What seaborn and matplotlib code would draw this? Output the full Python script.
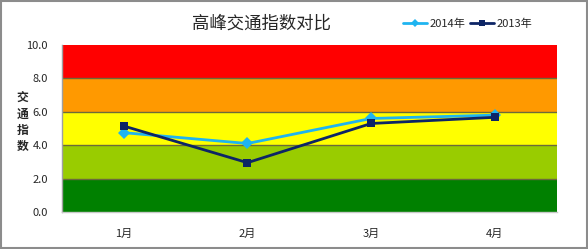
import matplotlib
matplotlib.use("Agg")
import matplotlib.pyplot as plt
import seaborn as sns
import pandas as pd
from matplotlib.patches import Rectangle
from matplotlib.lines import Line2D

months = ["1月", "2月", "3月", "4月"]
v2014 = [4.75, 4.1, 5.6, 5.8]
v2013 = [5.15, 2.95, 5.3, 5.67]
band_edges = [0, 2, 4, 6, 8, 10]
band_colors = ["#008000", "#99CC00", "#FFFF00", "#FF9900", "#FF0000"]
yticks = [0, 2, 4, 6, 8, 10]

sns.set_style("white")
plt.rcParams['font.family'] = ['Noto Sans CJK SC', 'DejaVu Sans']

df = pd.DataFrame({
    "month": months * 2,
    "x": list(range(4)) * 2,
    "value": v2014 + v2013,
    "series": ["2014年"] * 4 + ["2013年"] * 4,
})

fig = plt.figure(figsize=(5.88, 2.49), dpi=100)
ax = fig.add_axes([0.105, 0.149, 0.842, 0.670])

for i in range(len(band_colors)):
    ax.axhspan(band_edges[i], band_edges[i + 1], color=band_colors[i], zorder=0, lw=0)
for e in band_edges[1:-1]:
    ax.axhline(e, color="#6b6b3a", lw=1.0, zorder=1)

palette = {"2014年": "#1FB4F0", "2013年": "#0D2566"}
sns.lineplot(data=df, x="x", y="value", hue="series", style="series",
             markers={"2014年": "D", "2013年": "s"}, dashes=False,
             palette=palette, ax=ax, lw=2, markersize=6, markeredgewidth=0,
             legend=False, zorder=3)

ax.set_xlim(-0.5, 3.5)
ax.set_ylim(0, 10)
ax.set_xticks(range(4))
ax.set_xticklabels(months, fontsize=8)
ax.set_yticks(yticks)
ax.set_yticklabels([f"{t:.1f}" for t in yticks], fontsize=8)
ax.tick_params(axis="both", length=0, pad=10)
ax.tick_params(axis="x", pad=12)
ax.set_xlabel("")
ax.set_ylabel("")
for s in ["top", "right"]:
    ax.spines[s].set_visible(False)
ax.spines["left"].set_color("#a0a0a0")
ax.spines["bottom"].set_color("#c8c8c8")
ax.spines["left"].set_linewidth(1)
ax.spines["bottom"].set_linewidth(1)

fig.text(0.038, 0.51, "交\n通\n指\n数", fontsize=8.5, fontweight="bold",
         ha="center", va="center", linespacing=1.35)
fig.text(0.445, 0.905, "高峰交通指数对比", fontsize=12.5, ha="center", va="center")

handles = [Line2D([], [], color="#1FB4F0", marker="D", lw=2, markersize=4, markeredgewidth=0),
           Line2D([], [], color="#0D2566", marker="s", lw=2, markersize=4, markeredgewidth=0)]
fig.legend(handles, ["2014年", "2013年"], loc="center", bbox_to_anchor=(0.795, 0.905),
           ncol=2, frameon=False, fontsize=8, handlelength=2.2, handletextpad=0.2,
           columnspacing=0.4)

fig.patches.append(Rectangle((0.002, 0.004), 0.996, 0.992, transform=fig.transFigure,
                             fill=False, edgecolor="#8c8c8c", lw=1.5))

fig.savefig("out.png", dpi=100, facecolor="white")
